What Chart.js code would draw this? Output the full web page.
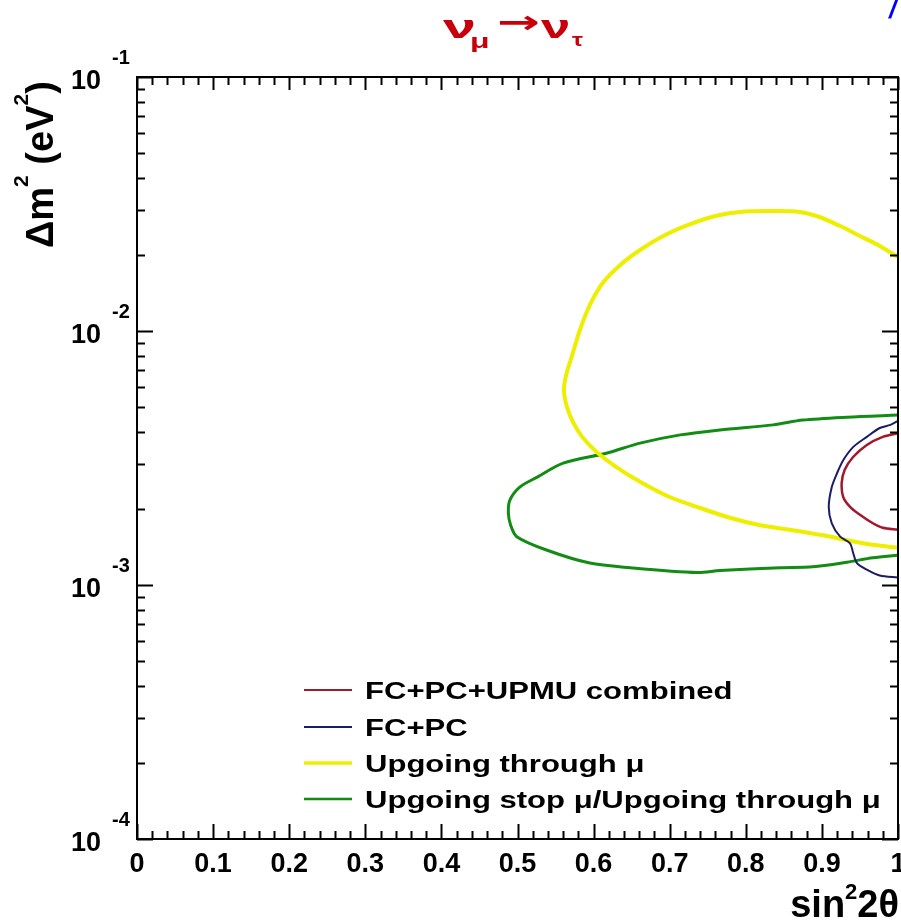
<!DOCTYPE html>
<html>
<head>
<meta charset="utf-8">
<script src="https://cdn.jsdelivr.net/npm/chart.js@4.4.1/dist/chart.umd.min.js"></script>
<style>
  html, body { margin: 0; padding: 0; background: #ffffff; }
  #wrap { width: 901px; height: 920px; }
</style>
</head>
<body>
<div id="wrap"><canvas id="c" width="901" height="920"></canvas></div>
<script>
// Allowed-region contours for nu_mu -> nu_tau: sin^2(2theta) vs delta m^2 (eV^2)
const combinedX = [1.000, 0.980, 0.959, 0.941, 0.930, 0.926, 0.928, 0.937, 0.950, 0.967, 0.980, 1.000];
const combinedY = [0.00396, 0.00383, 0.00356, 0.00319, 0.00284, 0.00252, 0.00222, 0.00203, 0.00189, 0.00175, 0.00168, 0.00165];

const fcpcX = [1.000, 0.990, 0.976, 0.959, 0.941, 0.928, 0.920, 0.913, 0.909, 0.913, 0.924, 0.937, 0.941, 0.946, 0.959, 0.976, 1.000];
const fcpcY = [0.00443, 0.00427, 0.00415, 0.00383, 0.00349, 0.00310, 0.00276, 0.00243, 0.00203, 0.00175, 0.00155, 0.00146, 0.00134, 0.00122, 0.00115, 0.00109, 0.00107];

const thruMuX = [1.000, 0.976, 0.950, 0.924, 0.897, 0.871, 0.832, 0.792, 0.760, 0.727, 0.694, 0.661, 0.635, 0.612, 0.595, 0.582, 0.572, 0.564, 0.561, 0.565, 0.573, 0.585, 0.604, 0.628, 0.661, 0.700, 0.740, 0.779, 0.819, 0.858, 0.901, 0.954, 1.000];
const thruMuY = [0.01954, 0.02163, 0.02366, 0.02589, 0.02811, 0.02944, 0.02966, 0.02944, 0.02838, 0.02636, 0.02388, 0.02084, 0.01820, 0.01545, 0.01265, 0.01009, 0.00805, 0.00672, 0.00586, 0.00502, 0.00438, 0.00383, 0.00334, 0.00294, 0.00255, 0.00222, 0.00201, 0.00184, 0.00172, 0.00165, 0.00157, 0.00146, 0.00140];

const stopThruX = [1.000, 0.933, 0.875, 0.836, 0.766, 0.714, 0.661, 0.618, 0.560, 0.526, 0.503, 0.490, 0.488, 0.491, 0.499, 0.539, 0.595, 0.648, 0.736, 0.766, 0.845, 0.888, 0.933, 0.967, 1.000];
const stopThruY = [0.00467, 0.00458, 0.00446, 0.00427, 0.00408, 0.00390, 0.00362, 0.00331, 0.00302, 0.00266, 0.00243, 0.00216, 0.00192, 0.00172, 0.00155, 0.00137, 0.00122, 0.00117, 0.00112, 0.00114, 0.00117, 0.00118, 0.00123, 0.00128, 0.00131];

const seriesLabels = ['FC+PC+UPMU combined', 'FC+PC', 'Upgoing through \u03bc', 'Upgoing stop \u03bc/Upgoing through \u03bc'];
const seriesColors = ['#a3192c', '#1c1c66', '#eeee00', '#128c12'];
const seriesWidths = [2.5, 2, 4, 3];

const xMajorTicks = [0, 0.1, 0.2, 0.3, 0.4, 0.5, 0.6, 0.7, 0.8, 0.9, 1];
const xTickLabels = ['0', '0.1', '0.2', '0.3', '0.4', '0.5', '0.6', '0.7', '0.8', '0.9', '1'];
const yDecades = [1e-1, 1e-2, 1e-3, 1e-4];
const yExponents = ['-1', '-2', '-3', '-4'];

const FONT = '"Liberation Sans", Arial, Helvetica, sans-serif';

function pts(xs, ys) { return xs.map((x, i) => ({ x: x, y: ys[i] })); }

const curves = [[combinedX, combinedY], [fcpcX, fcpcY], [thruMuX, thruMuY], [stopThruX, stopThruY]];

const datasets = curves.map((c, i) => ({
  label: seriesLabels[i],
  data: pts(c[0], c[1]),
  showLine: true,
  borderColor: seriesColors[i],
  backgroundColor: seriesColors[i],
  borderWidth: seriesWidths[i],
  pointRadius: 0,
  tension: 0.3,
  fill: false
}));

// draw text with optional horizontal stretch
function stretchText(ctx, txt, x, y, size, sx, align, family) {
  ctx.save();
  ctx.font = 'bold ' + size + 'px ' + (family || FONT);
  ctx.textAlign = align || 'left';
  ctx.textBaseline = 'alphabetic';
  ctx.translate(x, y);
  ctx.scale(sx, 1);
  ctx.fillText(txt, 0, 0);
  ctx.restore();
}

const framePlugin = {
  id: 'frameAndLabels',
  afterDraw(chart) {
    const ctx = chart.ctx;
    const a = chart.chartArea;
    const xs = chart.scales.x, ys = chart.scales.y;
    ctx.save();
    ctx.strokeStyle = '#000';
    ctx.fillStyle = '#000';
    ctx.lineWidth = 2;

    // frame
    ctx.strokeRect(a.left, a.top, a.right - a.left, a.bottom - a.top);

    // x ticks, inward on bottom and top
    ctx.beginPath();
    for (let k = 0; k <= 50; k++) {
      const v = k * 0.02;
      const px = Math.round(xs.getPixelForValue(v)) + 0.5;
      const major = (k % 5 === 0);
      const lb = major ? 15 : 8;
      const lt = major ? 13 : 8;
      ctx.moveTo(px, a.bottom); ctx.lineTo(px, a.bottom - lb);
      ctx.moveTo(px, a.top); ctx.lineTo(px, a.top + lt);
    }
    // y ticks, inward on left and right
    for (let e = -4; e <= -1; e++) {
      for (let m = 1; m <= 9; m++) {
        if (e === -1 && m > 1) continue;
        const v = m * Math.pow(10, e);
        const py = Math.round(ys.getPixelForValue(v)) + 0.5;
        const len = (m === 1) ? 16 : 8;
        ctx.moveTo(a.left, py); ctx.lineTo(a.left + len, py);
        ctx.moveTo(a.right, py); ctx.lineTo(a.right - len, py);
      }
    }
    ctx.stroke();

    // x tick labels
    xMajorTicks.forEach((v, i) => {
      stretchText(ctx, xTickLabels[i], xs.getPixelForValue(v), a.bottom + 33, 27, 1, 'center');
    });

    // y tick labels: 10 with exponent
    yDecades.forEach((v, i) => {
      const py = ys.getPixelForValue(v);
      stretchText(ctx, '10', 101, py + 12, 27, 1, 'right');
      stretchText(ctx, yExponents[i], 112, py - 13, 20, 1, 'left');
    });

    // y axis title, rotated
    ctx.save();
    ctx.translate(53, 248);
    ctx.rotate(-Math.PI / 2);
    let cx = 0;
    const yRuns = [['\u0394m', 38, 0], ['2', 21, -25], [' (eV', 38, 0], ['2', 21, -25], [')', 38, 0]];
    yRuns.forEach(r => {
      ctx.font = 'bold ' + r[1] + 'px ' + FONT;
      ctx.textAlign = 'left';
      ctx.fillText(r[0], cx, r[2]);
      cx += ctx.measureText(r[0]).width;
    });
    ctx.restore();

    // x axis title, right aligned
    const xRuns = [['sin', 38, 0], ['2', 22, -18], ['2\u03b8', 38, 0]];
    let tw = 0;
    xRuns.forEach(r => { ctx.font = 'bold ' + r[1] + 'px ' + FONT; tw += ctx.measureText(r[0]).width; });
    let tx = 899 - tw;
    xRuns.forEach(r => {
      ctx.font = 'bold ' + r[1] + 'px ' + FONT;
      ctx.textAlign = 'left';
      ctx.fillText(r[0], tx, 917 + r[2]);
      tx += ctx.measureText(r[0]).width;
    });

    // legend inside the frame
    const rowBase = [699, 736, 772, 808];
    chart.data.datasets.forEach((ds, i) => {
      const yb = rowBase[i];
      ctx.save();
      ctx.strokeStyle = ds.borderColor;
      ctx.lineWidth = Math.max(2, ds.borderWidth - 0.5);
      ctx.beginPath();
      ctx.moveTo(304, yb - 9); ctx.lineTo(352, yb - 9);
      ctx.stroke();
      ctx.restore();
      ctx.fillStyle = '#000';
      stretchText(ctx, ds.label, 365, yb, 23, 1.35, 'left');
    });

    // title: nu_mu -> nu_tau
    ctx.fillStyle = '#c8000c';
    stretchText(ctx, '\u03bd', 443, 38, 33, 1.8, 'left');
    stretchText(ctx, '\u03bc', 470, 48, 20, 1.6, 'left');
    stretchText(ctx, '\u2192', 497, 33, 32, 1.6, 'left', '"DejaVu Sans", sans-serif');
    stretchText(ctx, '\u03bd', 541, 38, 33, 1.6, 'left');
    stretchText(ctx, '\u03c4', 572, 46, 19, 1.3, 'left');

    // corner mark
    ctx.fillStyle = '#0000ff';
    ctx.save();
    ctx.font = 'italic bold 26px ' + FONT;
    ctx.lineWidth = 1;
    ctx.fillText('/', 889, 18);
    ctx.restore();

    ctx.restore();
  }
};

new Chart(document.getElementById('c'), {
  type: 'scatter',
  data: { datasets: datasets },
  options: {
    responsive: false,
    animation: false,
    devicePixelRatio: 1,
    layout: { padding: { left: 137, right: 3, top: 77, bottom: 81 } },
    plugins: { legend: { display: false }, tooltip: { enabled: false }, title: { display: false } },
    scales: {
      x: { type: 'linear', min: 0, max: 1, display: false },
      y: { type: 'logarithmic', min: 1e-4, max: 1e-1, display: false }
    }
  },
  plugins: [framePlugin]
});
</script>
</body>
</html>
